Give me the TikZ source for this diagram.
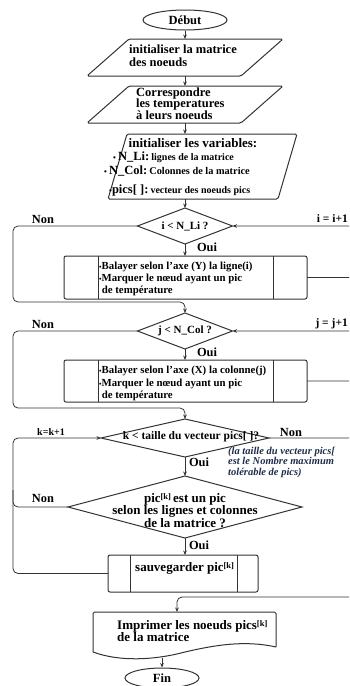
\documentclass[tikz,border=0pt]{standalone}
\usepackage{fontspec}
\setmainfont{Liberation Serif}
\usetikzlibrary{shapes.geometric,arrows.meta}
\definecolor{edge}{HTML}{333333}
\definecolor{note}{HTML}{1F2D4D}
\newcommand{\fsl}[2]{\fontsize{#1}{#2}\selectfont}
\newcommand{\kidx}{\raisebox{2.5pt}{\fsl{8.5}{9}[k]}}
\begin{document}
\begin{tikzpicture}[x=1pt,y=-1pt,
  line/.style={draw=edge,line width=0.8pt},
  flow/.style={line,rounded corners=5pt,-{Stealth[length=4.5pt,width=3.6pt]}},
  frame/.style={draw=edge,line width=1pt},
  hold/.style={rectangle,draw=none,inner sep=0pt,outer sep=0pt},
  term/.style={ellipse,frame,inner sep=0pt,minimum width=#1,minimum height=20pt,font=\bfseries\fsl{12.5}{13}},
  dec/.style={diamond,frame,inner sep=0pt,outer sep=0pt},
  txt/.style={inner sep=0pt,align=left,font=\bfseries\fsl{12.5}{13}},
  boxtxt/.style={inner sep=0pt,align=left,font=\bfseries\fsl{10.8}{12.2}},
  lbl/.style={inner sep=0pt,font=\bfseries\fsl{12.4}{13}},
  notetxt/.style={inner sep=0pt,align=left,text=note,font=\bfseries\itshape\fsl{10.5}{10.5}},
]
\clip (0,0) rectangle (349,686);
\fill[white] (0,0) rectangle (349,686);

% --- start terminal
\node[term=84pt] (start) at (185,20) {Début};

% --- input: node matrix
\node[hold,minimum width=154pt,minimum height=37pt] (p1) at (185,57.5) {};
\draw[frame,rounded corners=1.5pt] ([xshift=21pt]p1.north west) -- ([xshift=21pt]p1.north east)
  -- ([xshift=-21pt]p1.south east) -- ([xshift=-21pt]p1.south west) -- cycle;
\node[txt,anchor=west] (p1t) at (129,55.5) {initialiser la matrice\\des noeuds};

% --- input: temperatures
\node[hold,minimum width=154pt,minimum height=37pt] (p2) at (185,104.5) {};
\draw[frame,rounded corners=1.5pt] ([xshift=21pt]p2.north west) -- ([xshift=21pt]p2.north east)
  -- ([xshift=-21pt]p2.south east) -- ([xshift=-21pt]p2.south west) -- cycle;
\node[txt,anchor=west,font=\bfseries\fsl{12.5}{11.7}] (p2t) at (136,103.5) {Correspondre\\les temperatures\\à leurs noeuds};

% --- input: variables
\node[hold,minimum width=170pt,minimum height=65pt] (p3) at (202.5,166.5) {};
\draw[frame,rounded corners=1.5pt] ([xshift=9.5pt]p3.north west) -- ([xshift=9.5pt]p3.north east)
  -- ([xshift=-9.5pt]p3.south east) -- ([xshift=-9.5pt]p3.south west) -- cycle;
\node[lbl,font=\bfseries\fsl{13}{13}] (v0) at (193,143) {initialiser les variables:};
\node[txt,anchor=west] (v1) at (113,157) {{\fsl{8}{9}\textbullet}\,N\_Li:\,{\fsl{10}{12}lignes de la matrice}};
\node[txt,anchor=west] (v2) at (104,171) {{\fsl{8}{9}\textbullet}\,N\_Col:\,{\fsl{10.3}{12}Colonnes de la matrice}};
\node[txt,anchor=west] (v3) at (109,190) {{\fsl{8}{9}\textbullet}pics[ ]:\,{\fsl{10}{12}vecteur des noeuds pics}};

% --- loop over rows
\node[dec,minimum width=95pt,minimum height=36pt] (d1) at (185,226) {};
\node[lbl,font=\bfseries\fsl{11}{12}] at (d1) {i < N\_Li ?};
\node[hold,frame,rounded corners=2pt,minimum width=243pt,minimum height=43pt] (b1) at (185.5,277.5) {};
\draw[frame] ([xshift=34pt]b1.north west) -- ([xshift=34pt]b1.south west);
\draw[frame] ([xshift=-34pt]b1.north east) -- ([xshift=-34pt]b1.south east);
\node[boxtxt,anchor=west] (b1t) at (99,279) {{\fsl{7}{9}\textbullet}Balayer selon l'axe (Y) la ligne(i)\\{\fsl{7}{9}\textbullet}Marquer le nœud ayant un pic\\\ de température};

% --- loop over columns
\node[dec,minimum width=95pt,minimum height=36pt] (d2) at (185,331) {};
\node[lbl,font=\bfseries\fsl{11}{12}] at (d2) {j < N\_Col ?};
\node[hold,frame,rounded corners=2pt,minimum width=243pt,minimum height=42pt] (b2) at (185.5,381) {};
\draw[frame] ([xshift=34pt]b2.north west) -- ([xshift=34pt]b2.south west);
\draw[frame] ([xshift=-34pt]b2.north east) -- ([xshift=-34pt]b2.south east);
\node[boxtxt,anchor=west] (b2t) at (99,383.5) {{\fsl{7}{9}\textbullet}Balayer selon l'axe (X) la colonne(j)\\{\fsl{7}{9}\textbullet}Marquer le nœud ayant un pic\\\ de température};

% --- loop over peaks
\node[dec,minimum width=168pt,minimum height=38pt] (d3) at (185,438) {};
\node[lbl,font=\bfseries\fsl{11.5}{12}] at (191,437) {k < taille du vecteur pics[ ]?};
\node[dec,minimum width=234pt,minimum height=62pt] (d4) at (185,507) {};
\node[lbl,align=center,font=\bfseries\fsl{13}{11.5}] at (185,510.5) {pic\kidx\,est un pic\\selon les lignes et colonnes\\de la matrice ?};
\node[hold,frame,rounded corners=2pt,minimum width=150pt,minimum height=37pt] (b3) at (183,573.5) {};
\draw[frame] ([xshift=22pt]b3.north west) -- ([xshift=22pt]b3.south west);
\draw[frame] ([xshift=-21pt]b3.north east) -- ([xshift=-21pt]b3.south east);
\node[txt,anchor=west,font=\bfseries\fsl{13}{13}] (b3t) at (135,568) {sauvegarder pic\kidx};

% --- output document
\node[hold,minimum width=183pt,minimum height=40pt] (doc) at (184.5,632) {};
\draw[frame,rounded corners=1.5pt] (93,652) -- (93,612) -- (276,612) -- (276,647);
\draw[frame] (276,647) .. controls (245,640) and (215,645) .. (185,652)
  .. controls (155,660) and (120,662) .. (93,652);
\node[txt,anchor=west,font=\bfseries\fsl{13}{12}] (doct) at (117,631) {Imprimer les noeuds pics\kidx\\de la matrice};
\coordinate (docin) at (177,612);
\coordinate (docout) at (162,657.5);

% --- end terminal
\node[term=74pt] (fin) at (162,678) {Fin};

% --- main flow
\draw[flow] (start) -- (p1.north);
\draw[flow] (p1.south) -- (p2.north);
\draw[flow] (p2.south) -- (p2.south |- p3.north);
\draw[flow] (p2.south |- p3.south) -- (d1.north);
\draw[flow] (d1.south) -- (d1.south |- b1.north);
\draw[flow] (d2.south) -- (d2.south |- b2.north);
\draw[flow] (d3.south) -- (d4.north);
\draw[flow] (d4.south) -- (d4.south |- b3.north);
\draw[flow] (docout) -- (fin.north);

% --- loop back edges
\draw[flow] (b1.east) -- (360,277.5) |- (d1.east);
\draw[flow] (b2.east) -- (360,381) |- (d2.east);
\draw[flow] (d1.west) -| (13,302) -| (d2.north);
\draw[flow] (d2.west) -| (13,408) -| (d3.north);
\draw[flow] (b3.west) -| (13,438) -- (d3.west);
\draw[line,rounded corners=5pt] (d4.west) -- (13,507) -- (13,490);
\draw[flow] (d3.east) -- (360,438) |- (177,597) -- (docin);

% --- branch labels
\node[lbl] at (43,219) {Non};
\node[lbl] at (43,324) {Non};
\node[lbl] at (43,498) {Non};
\node[lbl] at (291,432) {Non};
\node[lbl] at (207,247) {Oui};
\node[lbl] at (207,352) {Oui};
\node[lbl] at (199,462) {Oui};
\node[lbl] at (199,545) {Oui};
\node[lbl,anchor=east,font=\bfseries\fsl{11.5}{12}] at (348,219) {i = i+1};
\node[lbl,anchor=east,font=\bfseries\fsl{11.5}{12}] at (348,324) {j = j+1};
\node[lbl,font=\bfseries\fsl{10}{12}] at (51,432) {k=k+1};
\node[notetxt,anchor=north west] at (228,447) {(la taille du vecteur pics[\\est le Nombre maximum\\tolérable de pics)};
\end{tikzpicture}
\end{document}
